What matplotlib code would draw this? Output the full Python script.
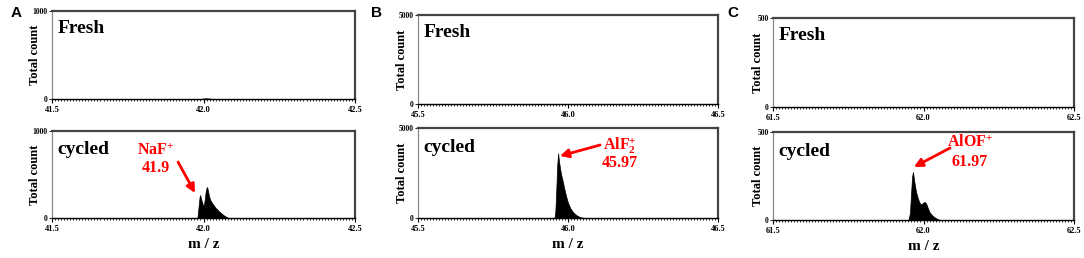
import matplotlib
matplotlib.use("Agg")
import matplotlib.pyplot as plt
from matplotlib.ticker import MultipleLocator

plt.rcParams['font.family'] = 'Liberation Serif'
plt.rcParams['font.weight'] = 'bold'
plt.rcParams['mathtext.fontset'] = 'custom'
plt.rcParams['mathtext.rm'] = 'Liberation Serif:bold'
plt.rcParams['mathtext.bf'] = 'Liberation Serif:bold'
plt.rcParams['mathtext.it'] = 'Liberation Serif:bold'

# --- data ---
panel_letters = ['A', 'B', 'C']
xranges = [(41.5, 42.5), (45.5, 46.5), (61.5, 62.5)]
xticks = [[41.5, 42.0, 42.5], [45.5, 46.0, 46.5], [61.5, 62.0, 62.5]]
ymax = [1000, 5000, 500]

# fresh samples (almost nothing)
fresh_mz_A = [41.990, 42.000, 42.010, 42.020, 42.030]
fresh_cnt_A = [0, 6, 8, 5, 0]
fresh_mz_B = [45.95, 46.00]
fresh_cnt_B = [0, 0]
fresh_mz_C = [61.95, 62.00]
fresh_cnt_C = [0, 0]

# cycled samples
cyc_mz_A = [41.980, 41.984, 41.987, 41.989, 41.992, 41.995, 41.998, 42.001, 42.004,
            42.007, 42.010, 42.012, 42.015, 42.018, 42.022, 42.026, 42.030, 42.035,
            42.040, 42.045, 42.050, 42.056, 42.062, 42.068, 42.075, 42.082]
cyc_cnt_A = [0, 140, 240, 264, 220, 185, 150, 140, 210, 300, 345, 356, 310, 255, 210,
             185, 165, 140, 115, 100, 80, 62, 45, 28, 14, 0]
cyc_mz_B = [45.955, 45.958, 45.961, 45.964, 45.967, 45.970, 45.974, 45.978, 45.983,
            45.988, 45.993, 45.998, 46.003, 46.008, 46.014, 46.020, 46.028, 46.036,
            46.045, 46.055]
cyc_cnt_B = [0, 400, 1600, 2900, 3600, 3150, 2700, 2350, 2000, 1600, 1250, 950, 720,
             540, 390, 270, 160, 80, 30, 0]
cyc_mz_C = [61.950, 61.955, 61.959, 61.962, 61.965, 61.968, 61.972, 61.976, 61.980,
            61.985, 61.990, 61.995, 62.000, 62.005, 62.010, 62.015, 62.020, 62.028,
            62.036, 62.045, 62.055]
cyc_cnt_C = [0, 40, 160, 245, 273, 235, 190, 155, 130, 105, 90, 92, 100, 102, 88, 65,
             45, 28, 16, 7, 0]

fresh = [(fresh_mz_A, fresh_cnt_A), (fresh_mz_B, fresh_cnt_B), (fresh_mz_C, fresh_cnt_C)]
cycled = [(cyc_mz_A, cyc_cnt_A), (cyc_mz_B, cyc_cnt_B), (cyc_mz_C, cyc_cnt_C)]

ion_labels = [r'$\mathbf{NaF^{{+}}}$', r'$\mathbf{AlF_2^{{+}}}$', r'$\mathbf{AlOF^{{+}}}$']
ion_mz = ['41.9', '45.97', '61.97']
# text centre (x, line1 y, line2 y), arrow tail and head, in data units
ion_text = [(41.843, 724, 529), (46.173, 3780, 2860), (62.154, 415, 305)]
arrow_tail = [(41.916, 644), (46.107, 4055), (62.088, 409)]
arrow_head = [(41.972, 287), (45.973, 3444), (61.968, 301)]

# --- layout in pixels (left, right, top1, bottom1, top2, bottom2) ---
W, H = 1084, 258
boxes = [(52, 355, 11, 99, 131, 218),
         (418, 718, 15, 104, 128, 218),
         (773, 1074, 18, 107, 132, 220)]
letter_x = [16, 376, 733]
ylabel_x = [41, 408, 764]

fig = plt.figure(figsize=(W / 100, H / 100), dpi=100)


def style_axes(ax, i):
    l, r = boxes[i][0], boxes[i][1]
    ax.set_xlim(*xranges[i])
    ax.set_ylim(0, ymax[i])
    ax.set_xticks(xticks[i])
    ax.set_xticklabels(['%.1f' % v for v in xticks[i]])
    ax.set_yticks([0, ymax[i]])
    ax.xaxis.set_minor_locator(MultipleLocator(0.01))
    ax.tick_params(axis='x', which='major', length=3, width=0.8, pad=2, labelsize=6)
    ax.tick_params(axis='x', which='minor', length=1.2, width=0.6)
    ax.tick_params(axis='y', length=2, width=0.6, pad=1, labelsize=5.5)
    ax.spines['left'].set_color('#888888')
    ax.spines['left'].set_linewidth(0.9)
    for s in ('top', 'right'):
        ax.spines[s].set_color('#444444')
        ax.spines[s].set_linewidth(1.6)
    ax.spines['bottom'].set_color('black')
    ax.spines['bottom'].set_linewidth(1.0)
    ax.set_ylabel('Total count', fontsize=9, fontweight='bold')
    ax.yaxis.set_label_coords((ylabel_x[i] - l) / (r - l), 0.5)


for i in range(3):
    l, r, t1, b1, t2, b2 = boxes[i]
    ax1 = fig.add_axes([l / W, 1 - b1 / H, (r - l) / W, (b1 - t1) / H])
    ax2 = fig.add_axes([l / W, 1 - b2 / H, (r - l) / W, (b2 - t2) / H])

    mz, cnt = fresh[i]
    ax1.fill_between(mz, cnt, color='black', lw=0.5)
    mz, cnt = cycled[i]
    ax2.fill_between(mz, cnt, color='black', lw=0.5)

    style_axes(ax1, i)
    style_axes(ax2, i)

    ax1.text(0.018, 0.75, 'Fresh', transform=ax1.transAxes, fontsize=14,
             fontweight='bold', va='baseline')
    ax2.text(0.018, 0.73, 'cycled', transform=ax2.transAxes, fontsize=14,
             fontweight='bold', va='baseline')

    tx, ty1, ty2 = ion_text[i]
    ax2.text(tx, ty1, ion_labels[i], color='red', fontsize=11.5, ha='center', va='baseline')
    ax2.text(tx, ty2, ion_mz[i], color='red', fontsize=11.5, fontweight='bold',
             ha='center', va='baseline')
    ax2.annotate('', xy=arrow_head[i], xytext=arrow_tail[i],
                 arrowprops=dict(arrowstyle='-|>,head_length=0.5,head_width=0.25',
                                 color='red', lw=2, shrinkA=0, shrinkB=0))

    ax2.set_xlabel('m / z', fontsize=11, fontweight='bold', labelpad=4)

    fig.text(letter_x[i] / W, 1 - 13 / H, panel_letters[i], fontsize=11,
             fontweight='bold', family='Liberation Sans', ha='center', va='center')

fig.savefig('out.png', dpi=100)
